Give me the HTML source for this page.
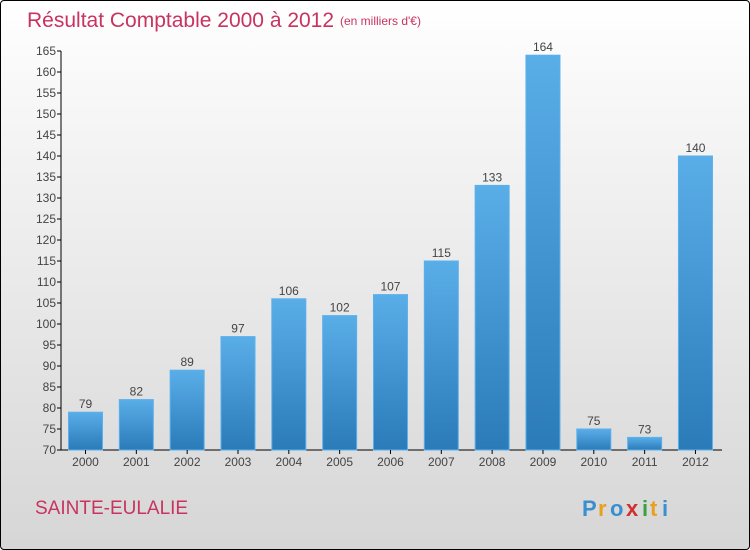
<!DOCTYPE html>
<html><head><meta charset="utf-8"><style>
body{margin:0;width:750px;height:550px;overflow:hidden}
#c{position:absolute;left:0;top:0;width:748px;height:548px;border:1px solid #000;border-radius:4px;background:linear-gradient(#ffffff,#f2f2f2 30%,#d6d6d6);font-family:"Liberation Sans",sans-serif}
</style></head><body>
<div id="c">
<svg width="750" height="550" style="position:absolute;left:-1px;top:-1px" id="svg">
<defs><linearGradient id="bg" x1="0" y1="0" x2="0" y2="1"><stop offset="0" stop-color="#5aaee8"/><stop offset="1" stop-color="#2a7bb8"/></linearGradient></defs>
<text x="27" y="27" font-size="21" fill="#c8335f">Résultat Comptable 2000 à 2012</text>
<text x="340" y="25" font-size="12" fill="#c8335f">(en milliers d'€)</text>
<text x="35" y="514" font-size="19" fill="#c8335f">SAINTE-EULALIE</text>
<g font-size="22" font-weight="bold"><text x="582" y="516" fill="#3a8fd0">P</text><text x="598" y="516" fill="#e8a020">r</text><text x="610" y="516" fill="#3a8fd0">o</text><text x="626" y="516" fill="#d0302f">x</text><text x="642" y="516" fill="#3aa040">i</text><text x="650" y="516" fill="#e8a020">t</text><text x="662" y="516" fill="#3a8fd0">i</text></g>
</svg></div>
<script>
const years=["2000","2001","2002","2003","2004","2005","2006","2007","2008","2009","2010","2011","2012"];
const values=[79,82,89,97,106,102,107,115,133,164,75,73,140];
const ticks=[70,75,80,85,90,95,100,105,110,115,120,125,130,135,140,145,150,155,160,165];
const svg=document.getElementById('svg');const NS="http://www.w3.org/2000/svg";
const y=v=>450-(v-70)*4.2;const x=i=>85.5+i*50.83;
function mk(t,a){const e=document.createElementNS(NS,t);for(const k in a)e.setAttribute(k,a[k]);svg.appendChild(e);return e;}
let ax=mk('line',{x1:61,y1:450,x2:61,y2:y(165),stroke:'#000'});


let bx=mk('line',{x1:61,y1:450,x2:722,y2:450,stroke:'#000'});


ticks.forEach(t=>{mk('line',{x1:57,x2:61,y1:y(t),y2:y(t),stroke:'#000'});
const e=mk('text',{x:56,y:y(t)+4,'font-size':12,'text-anchor':'end',fill:'#444'});e.textContent=t;

});
years.forEach((yr,i)=>{const v=values[i];
const r=mk('rect',{x:x(i)-17,y:y(v),width:34,height:450-y(v),fill:'url(#bg)',stroke:'#5ab0ee','stroke-width':1});


mk('line',{x1:x(i),x2:x(i),y1:450,y2:454,stroke:'#000'});
const l=mk('text',{x:x(i),y:y(v)-4,'font-size':12,'text-anchor':'middle',fill:'#444'});l.textContent=v;


const t=mk('text',{x:x(i),y:466,'font-size':12,'text-anchor':'middle',fill:'#444'});t.textContent=yr;

});
</script>
</body></html>
